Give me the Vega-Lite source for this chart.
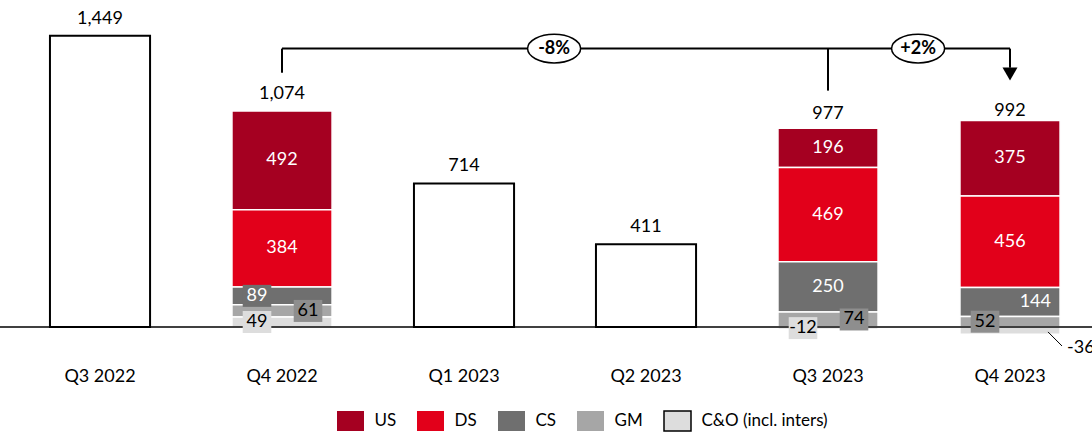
{
  "$schema": "https://vega.github.io/schema/vega-lite/v6.json",
  "width": 1092,
  "height": 347,
  "autosize": {"type": "none"},
  "padding": {"left": 0, "top": 0, "right": 0, "bottom": 85},
  "config": {"view": {"stroke": null}, "font": "Lato", "text": {"font": "Lato"}},
  "datasets": {
    "segs": [
      {"q": "Q4 2022", "seg": "US", "v": 492},
      {"q": "Q4 2022", "seg": "DS", "v": 384},
      {"q": "Q4 2022", "seg": "CS", "v": 89},
      {"q": "Q4 2022", "seg": "GM", "v": 61},
      {"q": "Q4 2022", "seg": "C&O (incl. inters)", "v": 49},
      {"q": "Q3 2023", "seg": "US", "v": 196},
      {"q": "Q3 2023", "seg": "DS", "v": 469},
      {"q": "Q3 2023", "seg": "CS", "v": 250},
      {"q": "Q3 2023", "seg": "GM", "v": 74},
      {"q": "Q3 2023", "seg": "C&O (incl. inters)", "v": -12},
      {"q": "Q4 2023", "seg": "US", "v": 375},
      {"q": "Q4 2023", "seg": "DS", "v": 456},
      {"q": "Q4 2023", "seg": "CS", "v": 144},
      {"q": "Q4 2023", "seg": "GM", "v": 52},
      {"q": "Q4 2023", "seg": "C&O (incl. inters)", "v": -36}
    ],
    "totals": [
      {"q": "Q3 2022", "v": 1449},
      {"q": "Q4 2022", "v": 1074},
      {"q": "Q1 2023", "v": 714},
      {"q": "Q2 2023", "v": 411},
      {"q": "Q3 2023", "v": 977},
      {"q": "Q4 2023", "v": 992}
    ],
    "changes": [
      {"q": "Q1 2023", "label": "-8%"},
      {"q": "Q3 2023", "label": "+2%"}
    ]
  },
  "layer": [
    {
      "data": {"name": "totals"},
      "transform": [{"filter": "indexof(['Q3 2022','Q1 2023','Q2 2023'], datum.q) >= 0"}],
      "mark": {"type": "bar", "fill": "white", "stroke": "black", "strokeWidth": 2},
      "encoding": {
        "x": {
          "field": "q", "type": "nominal",
          "scale": {"domain": ["Q3 2022", "Q4 2022", "Q1 2023", "Q2 2023", "Q3 2023", "Q4 2023"], "paddingInner": 0.45, "paddingOuter": 0.225, "align": 0.61},
          "axis": {"title": null, "domain": false, "ticks": false, "tickSize": 0, "labelPadding": 20, "labelFontSize": 18, "labelColor": "black", "labelAngle": 0, "labelFont": "Lato"}
        },
        "y": {"field": "v", "type": "quantitative", "scale": {"domain": [-100, 1627], "nice": false, "zero": false}, "axis": null}
      }
    },
    {
      "data": {"name": "segs"},
      "transform": [{"calculate": "indexof(['C&O (incl. inters)','GM','CS','DS','US'], datum.seg)", "as": "ord"}],
      "mark": {"type": "bar", "stroke": "white", "strokeWidth": 1.5},
      "encoding": {
        "x": {"field": "q", "type": "nominal"},
        "y": {"field": "v", "type": "quantitative", "stack": "zero"},
        "color": {
          "field": "seg", "type": "nominal",
          "scale": {"domain": ["US", "DS", "CS", "GM", "C&O (incl. inters)"], "range": ["#A50021", "#E2001A", "#6F6F6F", "#A6A6A6", "#DDDDDD"]},
          "legend": {
            "title": null, "orient": "none", "legendX": 339.5, "legendY": 410, "direction": "horizontal",
            "symbolType": "M-1.35,-1H1.35V1H-1.35Z", "symbolSize": 400, "symbolStrokeWidth": 1.5, "symbolStrokeColor": "transparent",
            "labelFontSize": 17, "labelFont": "Lato", "labelColor": "black", "labelOffset": 13, "columnPadding": 17, "padding": 0,
            "encode": {"symbols": {
              "enter": {"stroke": {"signal": "datum.value === 'C&O (incl. inters)' ? 'black' : 'transparent'"}, "strokeWidth": {"value": 1.5}},
              "update": {"stroke": {"signal": "datum.value === 'C&O (incl. inters)' ? 'black' : 'transparent'"}, "strokeWidth": {"value": 1.5}}
            }}
          }
        },
        "order": {"field": "ord", "type": "quantitative"}
      }
    },
    {
      "data": {"values": [{}]},
      "mark": {"type": "rule", "color": "black", "strokeWidth": 1.5},
      "encoding": {"y": {"datum": 0}}
    },
    {
      "data": {"name": "segs"},
      "transform": [
        {"calculate": "indexof(['C&O (incl. inters)','GM','CS','DS','US'], datum.seg)", "as": "ord"},
        {"stack": "v", "groupby": ["q"], "sort": [{"field": "ord", "order": "ascending"}], "as": ["y0", "y1"]},
        {"calculate": "(datum.y0 + datum.y1) / 2", "as": "mid"},
        {"filter": "datum.seg === 'US' || datum.seg === 'DS' || (datum.q === 'Q3 2023' && datum.seg === 'CS')"}
      ],
      "mark": {"type": "text", "color": "white", "fontSize": 18, "baseline": "middle"},
      "encoding": {
        "x": {"field": "q", "type": "nominal"},
        "y": {"field": "mid", "type": "quantitative"},
        "text": {"field": "v"}
      }
    },
    {
      "data": {"name": "segs"},
      "transform": [
        {"calculate": "indexof(['C&O (incl. inters)','GM','CS','DS','US'], datum.seg)", "as": "ord"},
        {"stack": "v", "groupby": ["q"], "sort": [{"field": "ord", "order": "ascending"}], "as": ["y0", "y1"]},
        {"calculate": "(datum.y0 + datum.y1) / 2", "as": "mid"},
        {"filter": "datum.q === 'Q4 2023' && datum.seg === 'CS'"}
      ],
      "mark": {"type": "text", "color": "white", "fontSize": 18, "baseline": "middle", "align": "right", "dx": 41},
      "encoding": {
        "x": {"field": "q", "type": "nominal"},
        "y": {"field": "mid", "type": "quantitative"},
        "text": {"field": "v"}
      }
    },
    {
      "data": {"name": "segs"},
      "transform": [
        {"calculate": "indexof(['C&O (incl. inters)','GM','CS','DS','US'], datum.seg)", "as": "ord"},
        {"stack": "v", "groupby": ["q"], "sort": [{"field": "ord", "order": "ascending"}], "as": ["y0", "y1"]},
        {"calculate": "(datum.y0 + datum.y1) / 2", "as": "mid"},
        {"filter": "(datum.q === 'Q4 2022' && (datum.seg === 'CS' || datum.seg === 'C&O (incl. inters)')) || (datum.q === 'Q3 2023' && datum.seg === 'C&O (incl. inters)') || (datum.q === 'Q4 2023' && datum.seg === 'GM')"}
      ],
      "layer": [
        {
          "mark": {"type": "point", "shape": "M-1.3,-1H1.3V1H-1.3Z", "size": 484, "filled": true, "opacity": 1, "xOffset": -25},
          "encoding": {
            "x": {"field": "q", "type": "nominal"},
            "y": {"field": "mid", "type": "quantitative"},
            "fill": {"field": "seg", "type": "nominal", "scale": {"domain": ["CS", "GM", "C&O (incl. inters)"], "range": ["#6F6F6F", "#8E8E8E", "#DDDDDD"]}, "legend": null}
          }
        },
        {
          "mark": {"type": "text", "fontSize": 18, "baseline": "middle", "dx": -25},
          "encoding": {
            "x": {"field": "q", "type": "nominal"},
            "y": {"field": "mid", "type": "quantitative"},
            "text": {"field": "v"},
            "color": {"condition": {"test": "datum.seg === 'CS'", "value": "white"}, "value": "black"}
          }
        }
      ]
    },
    {
      "data": {"name": "segs"},
      "transform": [
        {"calculate": "indexof(['C&O (incl. inters)','GM','CS','DS','US'], datum.seg)", "as": "ord"},
        {"stack": "v", "groupby": ["q"], "sort": [{"field": "ord", "order": "ascending"}], "as": ["y0", "y1"]},
        {"calculate": "(datum.y0 + datum.y1) / 2", "as": "mid"},
        {"filter": "(datum.q === 'Q4 2022' || datum.q === 'Q3 2023') && datum.seg === 'GM'"}
      ],
      "layer": [
        {
          "mark": {"type": "point", "shape": "M-1.3,-1H1.3V1H-1.3Z", "size": 484, "filled": true, "opacity": 1, "xOffset": 26},
          "encoding": {
            "x": {"field": "q", "type": "nominal"},
            "y": {"field": "mid", "type": "quantitative"},
            "fill": {"field": "seg", "type": "nominal", "legend": null}
          }
        },
        {
          "mark": {"type": "text", "fontSize": 18, "baseline": "middle", "dx": 26, "color": "black"},
          "encoding": {
            "x": {"field": "q", "type": "nominal"},
            "y": {"field": "mid", "type": "quantitative"},
            "text": {"field": "v"}
          }
        }
      ]
    },
    {
      "data": {"name": "segs"},
      "transform": [{"filter": "datum.q === 'Q4 2023' && datum.seg === 'C&O (incl. inters)'"}],
      "layer": [
        {
          "mark": {"type": "text", "fontSize": 18, "baseline": "middle", "align": "left", "dx": 57, "dy": 21, "color": "black"},
          "encoding": {
            "x": {"field": "q", "type": "nominal"},
            "y": {"datum": 0, "type": "quantitative"},
            "text": {"field": "v"}
          }
        },
        {
          "mark": {"type": "rule", "color": "black", "strokeWidth": 1, "xOffset": 38, "x2Offset": 52},
          "encoding": {
            "x": {"field": "q", "type": "nominal"},
            "x2": {"field": "q"},
            "y": {"datum": -25, "type": "quantitative"},
            "y2": {"datum": -95}
          }
        }
      ]
    },
    {
      "data": {"name": "totals"},
      "mark": {"type": "text", "fontSize": 18, "baseline": "middle", "dy": -17, "color": "black"},
      "encoding": {
        "x": {"field": "q", "type": "nominal"},
        "y": {"field": "v", "type": "quantitative"},
        "text": {"field": "v", "format": ","}
      }
    },
    {
      "data": {"values": [{}]},
      "layer": [
        {
          "mark": {"type": "rule", "color": "black", "strokeWidth": 2},
          "encoding": {"x": {"datum": "Q4 2022"}, "x2": {"datum": "Q4 2023"}, "y": {"datum": 1385, "type": "quantitative"}}
        },
        {
          "mark": {"type": "rule", "color": "black", "strokeWidth": 2},
          "encoding": {"x": {"datum": "Q4 2022"}, "y": {"datum": 1385, "type": "quantitative"}, "y2": {"datum": 1265}}
        },
        {
          "mark": {"type": "rule", "color": "black", "strokeWidth": 2},
          "encoding": {"x": {"datum": "Q3 2023"}, "y": {"datum": 1385, "type": "quantitative"}, "y2": {"datum": 1176}}
        },
        {
          "mark": {"type": "rule", "color": "black", "strokeWidth": 2},
          "encoding": {"x": {"datum": "Q4 2023"}, "y": {"datum": 1385, "type": "quantitative"}, "y2": {"datum": 1290}}
        },
        {
          "mark": {"type": "point", "shape": "triangle-down", "size": 225, "filled": true, "color": "black", "opacity": 1},
          "encoding": {"x": {"datum": "Q4 2023"}, "y": {"datum": 1259, "type": "quantitative"}}
        }
      ]
    },
    {
      "data": {"name": "changes"},
      "layer": [
        {
          "mark": {"type": "point", "shape": "M-1,0A1,0.54 0 1,1 1,0A1,0.54 0 1,1 -1,0Z", "size": 2809, "fill": "white", "stroke": "black", "strokeWidth": 1.5, "opacity": 1, "filled": false},
          "encoding": {"x": {"field": "q", "type": "nominal", "bandPosition": 1.4}, "y": {"datum": 1385, "type": "quantitative"}}
        },
        {
          "mark": {"type": "text", "fontSize": 18, "fontWeight": "bold", "baseline": "middle", "color": "black"},
          "encoding": {"x": {"field": "q", "type": "nominal", "bandPosition": 1.4}, "y": {"datum": 1385, "type": "quantitative"}, "text": {"field": "label"}}
        }
      ]
    }
  ]
}
